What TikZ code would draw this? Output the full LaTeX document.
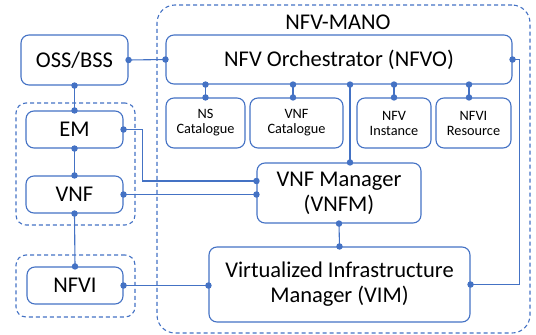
\documentclass[tikz,border=0pt]{standalone}
\usepackage{fontspec}
\setmainfont{Carlito}
\usetikzlibrary{arrows.meta}
\definecolor{linkblue}{HTML}{4472C4}
\tikzset{
  box/.style={draw=linkblue, line width=1.1pt, rounded corners=8pt, inner sep=0pt,
    align=center, text=black, font=\fontsize{22.5}{25}\selectfont},
  smallbox/.style={box, font=\fontsize{14.3}{15}\selectfont},
  group/.style={draw=linkblue, line width=1.1pt, dash pattern=on 4pt off 3pt, inner sep=0pt},
  link/.style={draw=linkblue, line width=1.1pt,
    {Circle[length=6.4pt]}-{Circle[length=6.4pt]}, shorten <=-3.2pt, shorten >=-3.2pt},
}
\begin{document}
\begin{tikzpicture}[x=1pt,y=-1pt]
\useasboundingbox (0,0) rectangle (536,335);

% dashed groupings
\node[group, rounded corners=18pt, minimum width=373pt, minimum height=328pt] (mano) at (343.5,169) {};
\node[group, rounded corners=10pt, minimum width=119pt, minimum height=122pt] (vnfgrp) at (75.5,164) {};
\node[group, rounded corners=10pt, minimum width=119pt, minimum height=62pt] (nfvigrp) at (75.5,286) {};
\node[font=\fontsize{22.5}{25}\selectfont] (manolbl) at (338,22) {NFV-MANO};

% main blocks
\node[box, minimum width=107pt, minimum height=50pt] (oss) at (74.5,60) {OSS/BSS};
\node[box, minimum width=346pt, minimum height=49pt] (nfvo) at (339,59.5) {NFV Orchestrator (NFVO)};
\node[smallbox, minimum width=79pt, minimum height=50pt] (ns) at (205.5,123) {NS\\Catalogue};
\node[smallbox, minimum width=93pt, minimum height=50pt] (vnfcat) at (296.5,123) {VNF\\Catalogue};
\node[smallbox, minimum width=74pt, minimum height=50pt] (inst) at (394,123) {NFV\\Instance};
\node[smallbox, minimum width=75pt, minimum height=50pt] (res) at (473.5,123) {NFVI\\Resource};
\node[box, minimum width=97pt, minimum height=37pt] (em) at (74.5,129.5) {EM};
\node[box, minimum width=97pt, minimum height=37pt] (vnf) at (74.5,194.5) {VNF};
\node[box, minimum width=96pt, minimum height=37pt] (nfvi) at (75,285.5) {NFVI};
\node[box, minimum width=164pt, minimum height=60pt] (vnfm) at (339,193) {VNF Manager\\(VNFM)};
\node[box, minimum width=261pt, minimum height=75pt] (vim) at (339.5,284.5) {Virtualized Infrastructure\\Manager (VIM)};

% connectors
\draw[link] (oss.east) -- (nfvo.west);
\draw[link] (oss.south) -- (em.north);
\draw[link] (em.south) -- (vnf.north);
\draw[link] (vnf.south) -- (nfvi.north);
\draw[link] (ns.north) -- (ns.north |- nfvo.south);
\draw[link] ([xshift=-3.5pt]vnfcat.north) -- ([xshift=-3.5pt]vnfcat.north |- nfvo.south);
\draw[link] (inst.north) -- (inst.north |- nfvo.south);
\draw[link] ([xshift=-4.5pt]res.north) -- ([xshift=-4.5pt]res.north |- nfvo.south);
\draw[link] ([xshift=11pt]vnfm.north |- nfvo.south) -- ([xshift=11pt]vnfm.north);
\draw[link] (em.east) -- ++(19,0) |- ([yshift=12pt]vnfm.west);
\draw[link] (vnf.east) -- (vnf.east -| vnfm.west);
\draw[link] (vnfm.south) -- (vim.north);
\draw[link] (nfvi.east) -- (nfvi.east -| vim.west);
\draw[link] (vim.east) -- ++(49,0) |- (nfvo.east);
\end{tikzpicture}
\end{document}
